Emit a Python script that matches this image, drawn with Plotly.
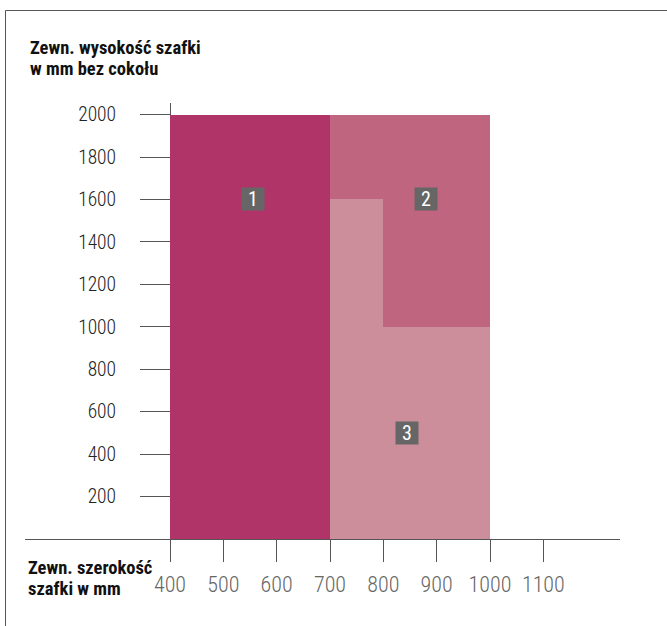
import plotly.graph_objects as go

# ---- data ----
rect_region = [1, 2, 2, 3, 3]
rect_x0 = [400, 700, 800, 700, 800]
rect_x1 = [700, 800, 1000, 800, 1000]
rect_y0 = [0, 1600, 1000, 0, 0]
rect_y1 = [2000, 2000, 2000, 1600, 1000]

region_colors = {1: "#b03468", 2: "#c0657f", 3: "#cd8e9b"}
label_text = ["1", "2", "3"]
label_x = [555, 880, 845]
label_y = [1600, 1600, 500]

x_ticks = [400, 500, 600, 700, 800, 900, 1000, 1100]
y_ticks = [200, 400, 600, 800, 1000, 1200, 1400, 1600, 1800, 2000]

y_title = ["Zewn. wysokość szafki", "w mm bez cokołu"]
x_title = ["Zewn. szerokość", "szafki w mm"]

# ---- layout geometry (pixels) ----
W, H = 667, 626
L, R, T, B = 25, 47, 103, 87
PW, PH = W - L - R, H - T - B
X_RANGE = [128.125, 1243.75]
Y_RANGE = [0, 2054.45]

def px(xp):
    return (xp - L) / PW

def py(yp):
    return (H - B - yp) / PH

FONT = "Roboto Condensed, Archivo Narrow, Arimo, sans-serif"

fig = go.Figure()
for reg in [1, 2, 3]:
    idx = [i for i, r in enumerate(rect_region) if r == reg]
    fig.add_trace(go.Bar(
        x=[(rect_x0[i] + rect_x1[i]) / 2 for i in idx],
        width=[rect_x1[i] - rect_x0[i] for i in idx],
        base=[rect_y0[i] for i in idx],
        y=[rect_y1[i] - rect_y0[i] for i in idx],
        marker=dict(color=region_colors[reg], line=dict(width=0)),
        showlegend=False,
        hoverinfo="skip",
    ))

annotations = []
for t, lx, ly in zip(label_text, label_x, label_y):
    annotations.append(dict(
        x=lx, y=ly, xref="x", yref="y", text=t, showarrow=False,
        font=dict(family=FONT, size=20, color="white"),
        bgcolor="#666666", width=22, height=22, borderpad=0,
        xanchor="center", yanchor="middle",
    ))

for i, t in enumerate(y_title):
    annotations.append(dict(
        x=px(28), y=py(47.5 + i * 21.5), xref="paper", yref="paper", text="<b>%s</b>" % t,
        showarrow=False, xanchor="left", yanchor="middle",
        font=dict(family=FONT, size=18.5, color="#111111"),
    ))
for i, t in enumerate(x_title):
    annotations.append(dict(
        x=px(26), y=py(567.5 + i * 21.5), xref="paper", yref="paper", text="<b>%s</b>" % t,
        showarrow=False, xanchor="left", yanchor="middle",
        font=dict(family=FONT, size=18.5, color="#111111"),
    ))

shapes = [
    dict(type="line", xref="paper", yref="paper", x0=px(5.5), x1=px(668), y0=py(10.5), y1=py(10.5),
         line=dict(color="#555555", width=1)),
    dict(type="line", xref="paper", yref="paper", x0=px(5.5), x1=px(5.5), y0=py(10.5), y1=py(630),
         line=dict(color="#555555", width=1)),
]

fig.update_layout(
    width=W, height=H,
    margin=dict(l=L, r=R, t=T, b=B, pad=0),
    paper_bgcolor="white", plot_bgcolor="white",
    barmode="overlay", bargap=0,
    showlegend=False,
    annotations=annotations,
    shapes=shapes,
    xaxis=dict(
        range=X_RANGE, tickvals=x_ticks, ticktext=[str(v) for v in x_ticks],
        showgrid=False, zeroline=False, showline=True, linecolor="#555555", linewidth=1,
        ticks="outside", ticklen=22, tickcolor="#555555", tickwidth=1,
        tickfont=dict(family=FONT, size=22, color="#666666", weight=300),
        ticklabelstandoff=4, fixedrange=True,
    ),
    yaxis=dict(
        range=Y_RANGE, tickvals=y_ticks, ticktext=[str(v) for v in y_ticks],
        anchor="free", position=px(170),
        showgrid=False, zeroline=False, showline=True, linecolor="#555555", linewidth=1,
        ticks="outside", ticklen=30, tickcolor="#555555", tickwidth=1,
        tickfont=dict(family=FONT, size=19.5, color="#222222", weight=300),
        ticklabelstandoff=20, layer="below traces", fixedrange=True,
    ),
)

fig.write_html("out.html", config={"displayModeBar": False},
               post_script="document.body.style.margin='0px';")
